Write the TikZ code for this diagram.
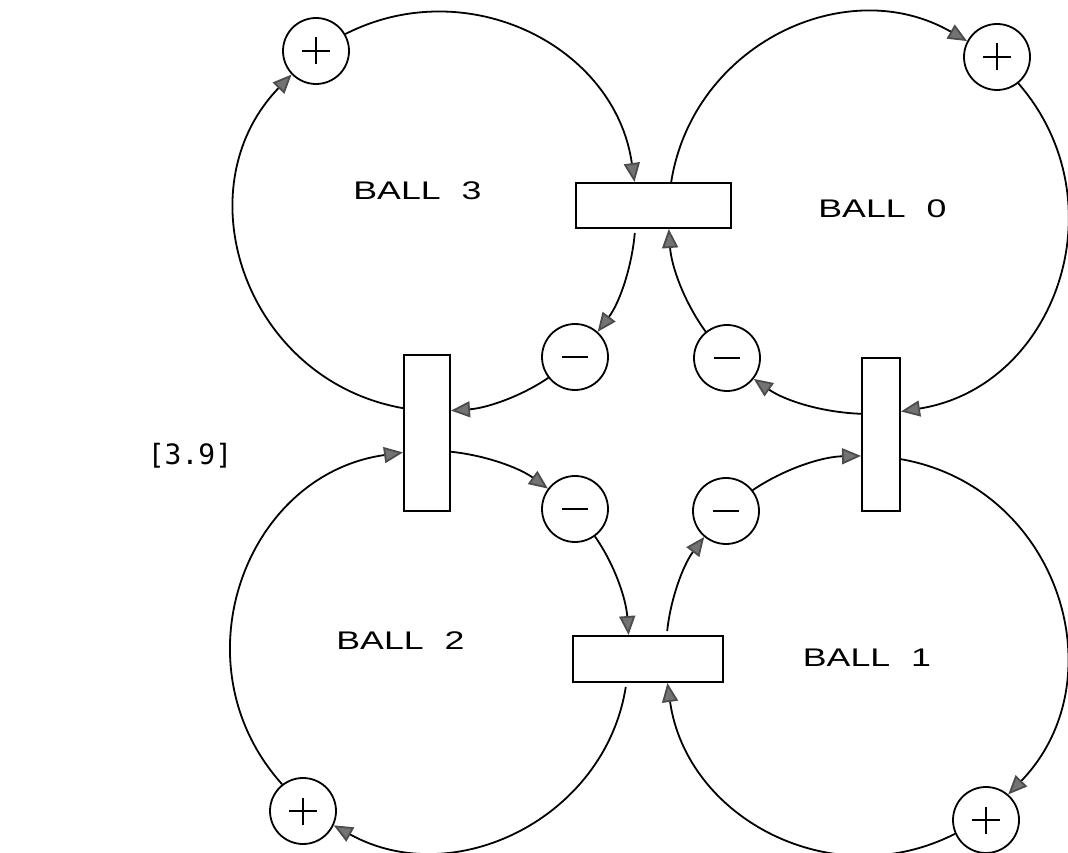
\documentclass[tikz,border=0pt]{standalone}
\usepackage{fontspec}
\usepackage{graphicx}
\setmainfont{Liberation Sans}
\newfontfamily\tagfont{DejaVu Sans Mono}
\usetikzlibrary{arrows.meta}

% wide, extended-looking caption for each ball
\newcommand{\ballname}[1]{\scalebox{1.4}[1]{BALL\hspace{15pt}#1}}

\begin{document}
\begin{tikzpicture}[x=1pt,y=1pt,
  valve/.style 2 args={draw, line width=2pt, inner sep=0pt,
    minimum width=#1, minimum height=#2},
  signbase/.style={draw, circle, line width=1.8pt, inner sep=0pt, minimum size=66pt},
  plusnode/.style={signbase, path picture={
      \draw[line width=2pt] ([xshift=-14pt]path picture bounding box.center) -- ++(28,0);
      \draw[line width=2pt] ([yshift=-13.5pt]path picture bounding box.center) -- ++(0,27);}},
  minusnode/.style={signbase, path picture={
      \draw[line width=2pt] ([xshift=-13pt]path picture bounding box.center) -- ++(26,0);}},
  link/.style={line width=1.8pt,
    -{Triangle[length=19pt,width=16pt,color=black!70,fill=black!55]}},
  lab/.style={inner sep=0pt, font=\fontsize{25.5}{30}\selectfont}
]
\useasboundingbox (0,0) rectangle (1068,852);

% flow bars between neighbouring balls
\node[valve={155pt}{45pt}] (T) at (653.5,646.5) {};
\node[valve={46pt}{156pt}] (L) at (427,419) {};
\node[valve={38pt}{153pt}] (R) at (881,417.5) {};
\node[valve={150pt}{46pt}] (B) at (648,193) {};

% positive and negative influences
\node[plusnode] (P3) at (316,801) {};
\node[plusnode] (P0) at (997,795) {};
\node[plusnode] (P2) at (303,41) {};
\node[plusnode] (P1) at (986,32) {};
\node[minusnode] (M3) at (575,495) {};
\node[minusnode] (M0) at (727,494) {};
\node[minusnode] (M2) at (575,343) {};
\node[minusnode] (M1) at (726,341) {};

% captions
\node[lab] (b3) at (417.5,661) {\ballname{3}};
\node[lab] (b0) at (882.5,643) {\ballname{0}};
\node[lab] (b2) at (400.5,211) {\ballname{2}};
\node[lab] (b1) at (867,194) {\ballname{1}};
\node[inner sep=0pt, font=\tagfont\fontsize{28}{32}\selectfont] (tag) at (190,396) {[3.9]};

% ball 3 loop
\draw[link] (P3.30) to[out=27,in=98,looseness=1.08] (T.129);
\draw[link, shorten <=4pt] (T.232) to[out=265,in=53,looseness=0.87] (M3.48);
\draw[link] (M3.218) to[out=214,in=4,looseness=0.87] (L.43);
\draw[link] (L.134) to[out=170,in=226,looseness=1.16] (P3.224);

% ball 0 loop
\draw[link] (T.53) to[out=81,in=150,looseness=1.09] (P0.152);
\draw[link] (P0.309) to[out=311,in=9,looseness=1.15] (R.49);
\draw[link] (R.134) to[out=178,in=325,looseness=0.87] (M0.322);
\draw[link] (M0.129) to[out=126,in=274,looseness=0.87] (T.303);

% ball 1 loop
\draw[link] (R.309) to[out=-10,in=46,looseness=1.16] (P1.49);
\draw[link] (P1.204) to[out=207,in=278,looseness=1.08] (B.309);
\draw[link, shorten <=4pt] (B.52) to[out=84,in=233,looseness=0.87] (M1.230);
\draw[link] (M1.38) to[out=34,in=181,looseness=0.87] (R.227);

% ball 2 loop
\draw[link] (L.322) to[out=-6,in=144,looseness=0.87] (M2.143);
\draw[link] (M2.306) to[out=305,in=94,looseness=0.87] (B.129);
\draw[link, shorten <=4pt] (B.228) to[out=261,in=331,looseness=1.08] (P2.335);
\draw[link] (P2.128) to[out=132,in=188,looseness=1.16] (L.219);
\end{tikzpicture}
\end{document}
